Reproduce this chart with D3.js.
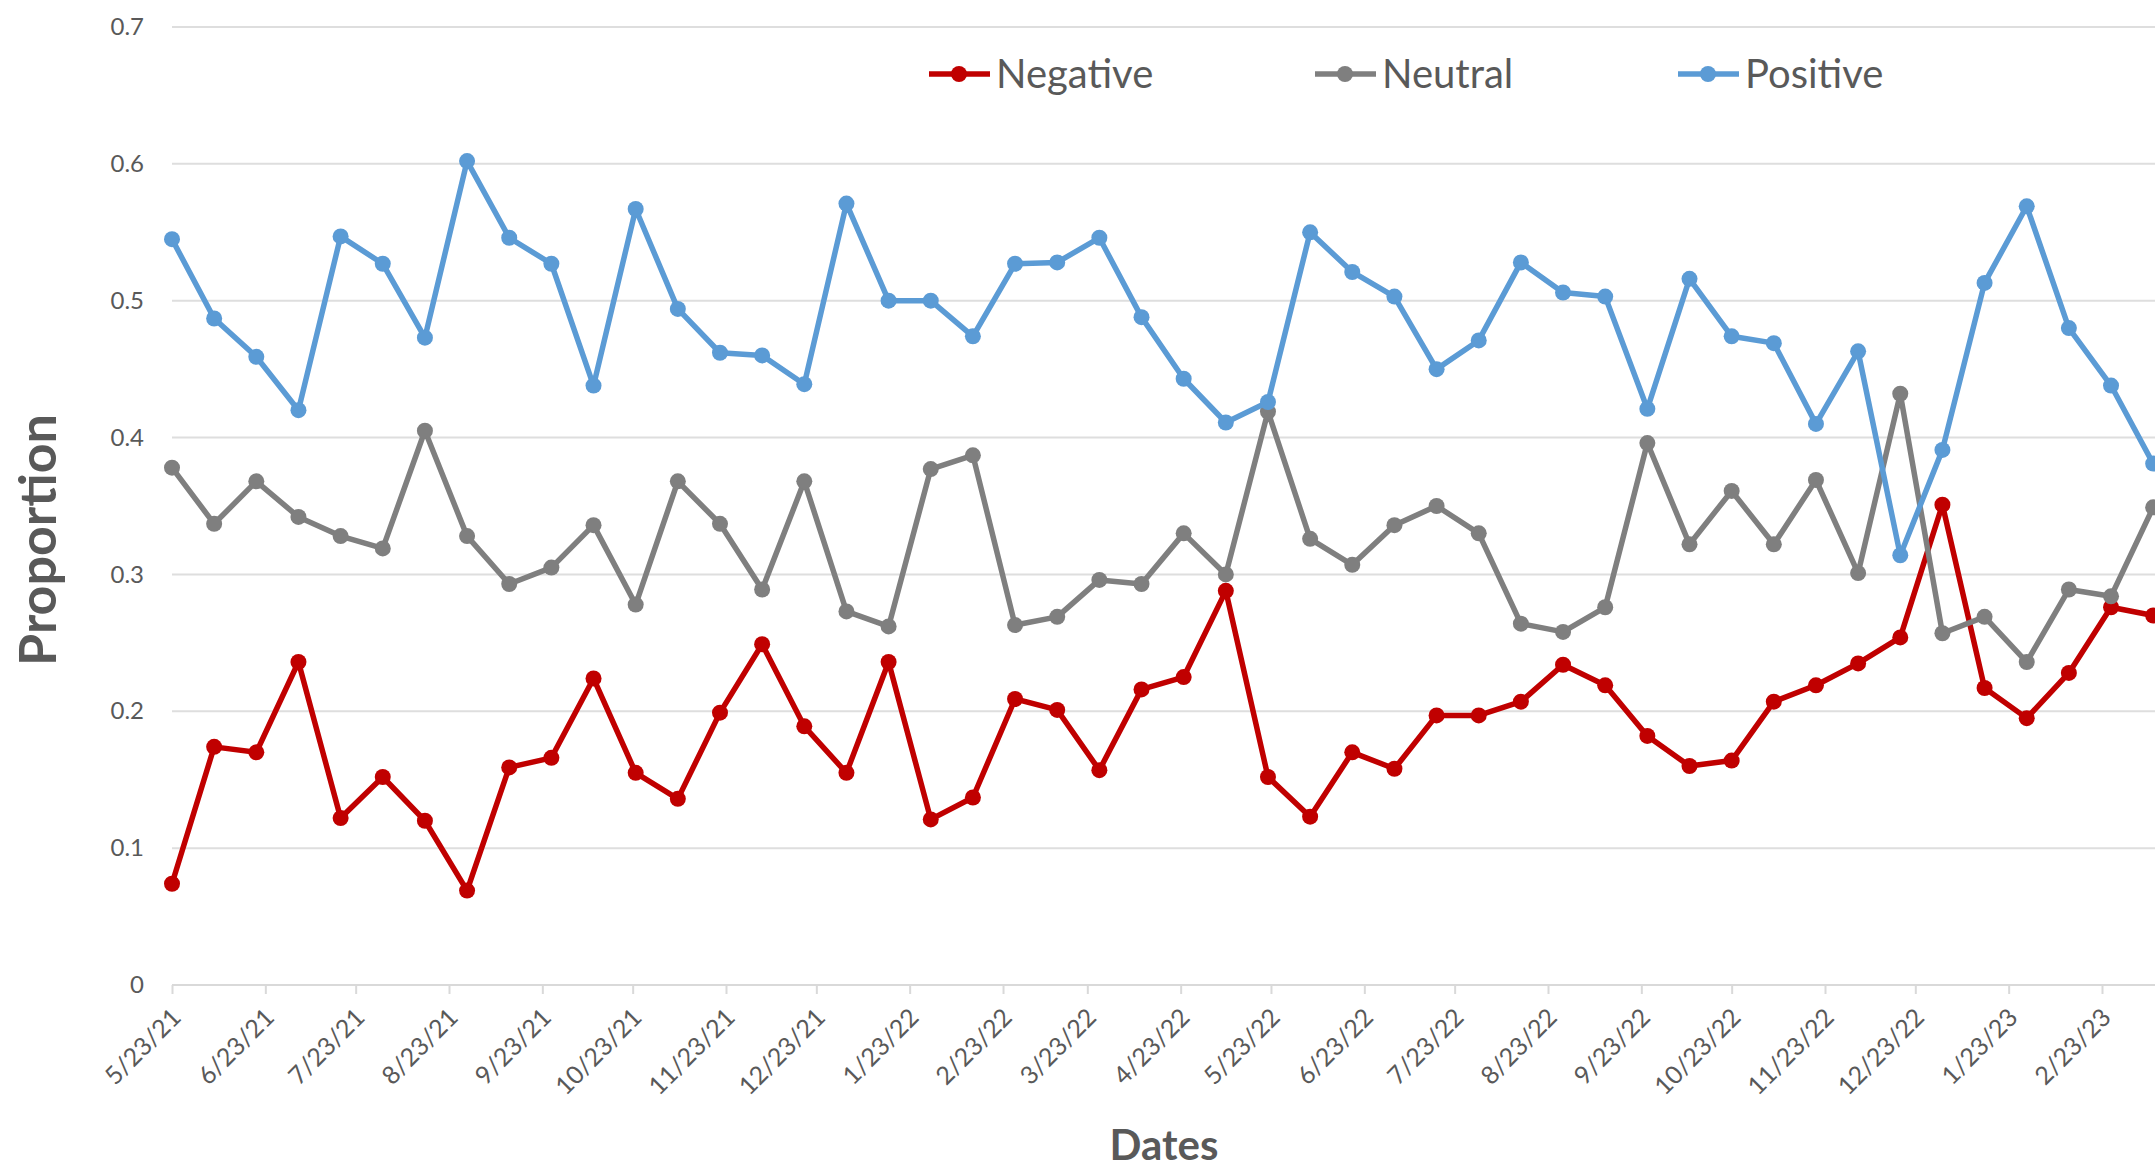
<!DOCTYPE html>
<html>
<head>
<meta charset="utf-8">
<script src="https://cdn.jsdelivr.net/npm/d3@7"></script>
<style>
  body { margin: 0; background: #fff; }
  svg { display: block; overflow: hidden; }
  text { font-family: Lato, "Open Sans", sans-serif; fill: #595959; }
</style>
</head>
<body>
<script>
const dates = ["5/23/21","6/6/21","6/20/21","7/4/21","7/18/21","8/1/21","8/15/21","8/29/21",
  "9/12/21","9/26/21","10/10/21","10/24/21","11/7/21","11/21/21","12/5/21","12/19/21",
  "1/2/22","1/16/22","1/30/22","2/13/22","2/27/22","3/13/22","3/27/22","4/10/22",
  "4/24/22","5/8/22","5/22/22","6/5/22","6/19/22","7/3/22","7/17/22","7/31/22",
  "8/14/22","8/28/22","9/11/22","9/25/22","10/9/22","10/23/22","11/6/22","11/20/22",
  "12/4/22","12/18/22","1/1/23","1/15/23","1/29/23","2/12/23","2/26/23","3/12/23"];

const negative = [0.074,0.174,0.170,0.236,0.122,0.152,0.120,0.069,0.159,0.166,0.224,0.155,
  0.136,0.199,0.249,0.189,0.155,0.236,0.121,0.137,0.209,0.201,0.157,0.216,
  0.225,0.288,0.152,0.123,0.170,0.158,0.197,0.197,0.207,0.234,0.219,0.182,
  0.160,0.164,0.207,0.219,0.235,0.254,0.351,0.217,0.195,0.228,0.276,0.270];

const neutral = [0.378,0.337,0.368,0.342,0.328,0.319,0.405,0.328,0.293,0.305,0.336,0.278,
  0.368,0.337,0.289,0.368,0.273,0.262,0.377,0.387,0.263,0.269,0.296,0.293,
  0.330,0.300,0.419,0.326,0.307,0.336,0.350,0.330,0.264,0.258,0.276,0.396,
  0.322,0.361,0.322,0.369,0.301,0.432,0.257,0.269,0.236,0.289,0.284,0.349];

const positive = [0.545,0.487,0.459,0.420,0.547,0.527,0.473,0.602,0.546,0.527,0.438,0.567,
  0.494,0.462,0.460,0.439,0.571,0.500,0.500,0.474,0.527,0.528,0.546,0.488,
  0.443,0.411,0.426,0.550,0.521,0.503,0.450,0.471,0.528,0.506,0.503,0.421,
  0.516,0.474,0.469,0.410,0.463,0.314,0.391,0.513,0.569,0.480,0.438,0.381];

const tickLabels = ["5/23/21","6/23/21","7/23/21","8/23/21","9/23/21","10/23/21","11/23/21",
  "12/23/21","1/23/22","2/23/22","3/23/22","4/23/22","5/23/22","6/23/22","7/23/22",
  "8/23/22","9/23/22","10/23/22","11/23/22","12/23/22","1/23/23","2/23/23"];

const yTicks = [0, 0.1, 0.2, 0.3, 0.4, 0.5, 0.6, 0.7];

const seriesNames = ["Negative", "Neutral", "Positive"];
const seriesColors = ["#c00000", "#7f7f7f", "#5b9bd5"];

const width = 2155;
const height = 1169;
const parse = d3.timeParse("%m/%d/%y");

const svg = d3.select("body").append("svg")
  .attr("width", width)
  .attr("height", height);

const x = d3.scaleTime()
  .domain([parse("5/23/21"), parse("2/23/23")])
  .range([172, 2102]);

const y = d3.scaleLinear()
  .domain([0, 0.7])
  .range([985, 27]);

// gridlines
svg.append("g")
  .selectAll("line")
  .data(yTicks.slice(1))
  .join("line")
  .attr("x1", x.range()[0])
  .attr("x2", width)
  .attr("y1", d => y(d))
  .attr("y2", d => y(d))
  .attr("stroke", "#dedede")
  .attr("stroke-width", 2);

// y axis labels (no axis line)
const yAxis = d3.axisLeft(y).tickValues(yTicks).tickSize(0).tickPadding(28)
  .tickFormat(d => d === 0 ? "0" : d3.format(".1f")(d));
const gy = svg.append("g").attr("transform", `translate(${x.range()[0]},0)`).call(yAxis);
gy.select(".domain").remove();
gy.selectAll("text").attr("font-size", 24).attr("fill", "#595959")
  .attr("font-family", "Lato, sans-serif");

// x axis
const xAxis = d3.axisBottom(x)
  .tickValues(tickLabels.map(parse))
  .tickSize(9)
  .tickFormat(d => d3.timeFormat("%-m/%-d/%y")(d));
const gx = svg.append("g").attr("transform", `translate(0,${y(0)})`).call(xAxis);
gx.select(".domain").remove();
gx.append("line")
  .attr("x1", x.range()[0]).attr("x2", width)
  .attr("stroke", "#d9d9d9").attr("stroke-width", 2);
gx.selectAll(".tick line").attr("stroke", "#d9d9d9").attr("stroke-width", 2);
gx.selectAll(".tick text")
  .attr("font-size", 25)
  .attr("font-family", "Lato, sans-serif")
  .attr("fill", "#595959")
  .attr("text-anchor", "end")
  .attr("y", 0)
  .attr("dy", 0)
  .attr("transform", "translate(10,34) rotate(-45)");

// series
const series = [negative, neutral, positive];
const line = d3.line()
  .x((d, i) => x(parse(dates[i])))
  .y(d => y(d));

series.forEach((vals, s) => {
  const g = svg.append("g");
  g.append("path")
    .datum(vals)
    .attr("d", line)
    .attr("fill", "none")
    .attr("stroke", seriesColors[s])
    .attr("stroke-width", 5.5)
    .attr("stroke-linejoin", "round");
  g.selectAll("circle")
    .data(vals)
    .join("circle")
    .attr("cx", (d, i) => x(parse(dates[i])))
    .attr("cy", d => y(d))
    .attr("r", 8)
    .attr("fill", seriesColors[s]);
});

// legend
const legendX = [929, 1315, 1678];
const legend = svg.append("g");
seriesNames.forEach((name, i) => {
  const lx = legendX[i];
  legend.append("line")
    .attr("x1", lx).attr("x2", lx + 61)
    .attr("y1", 74).attr("y2", 74)
    .attr("stroke", seriesColors[i]).attr("stroke-width", 5.5);
  legend.append("circle")
    .attr("cx", lx + 30).attr("cy", 74).attr("r", 8)
    .attr("fill", seriesColors[i]);
  legend.append("text")
    .attr("x", lx + 67).attr("y", 74)
    .attr("dy", "0.35em")
    .attr("font-size", 40)
    .text(name);
});

// axis titles
svg.append("text")
  .attr("x", 1164).attr("y", 1160)
  .attr("text-anchor", "middle")
  .attr("font-size", 42)
  .attr("font-weight", "bold")
  .text("Dates");

svg.append("text")
  .attr("transform", "translate(56,540) rotate(-90)")
  .attr("text-anchor", "middle")
  .attr("font-size", 52)
  .attr("font-weight", "bold")
  .text("Proportion");
</script>
</body>
</html>
